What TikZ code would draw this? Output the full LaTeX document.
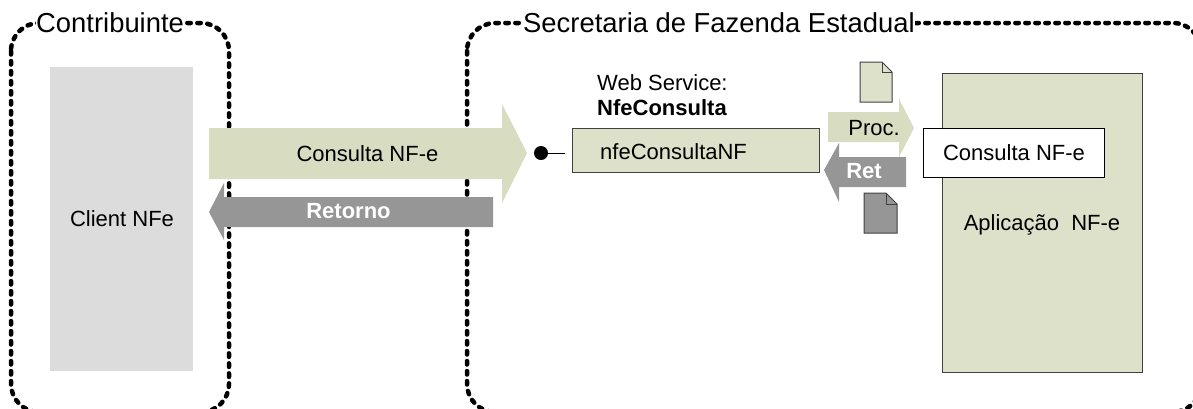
\documentclass[tikz,border=0pt]{standalone}
\usepackage{fontspec}
\setmainfont{Liberation Sans}
\usetikzlibrary{calc,positioning}
\definecolor{nfegreen}{HTML}{DDE1C9}
\definecolor{arrowgreen}{HTML}{D8DDC2}
\definecolor{nfegray}{HTML}{969696}
\definecolor{clientgray}{HTML}{DCDCDC}
\newcommand{\txtsize}{\fontsize{22}{26}\selectfont}
\newcommand{\titlesize}{\fontsize{27.4}{32}\selectfont}
\tikzset{
  zone/.style = {line width=4.5pt, line cap=round, dash pattern=on 3.5pt off 6.5pt, rounded corners=28pt},
  zonetitle/.style = {fill=white, inner sep=0pt, anchor=base west, font=\titlesize},
  box/.style = {draw=black!75, line width=1pt, fill=nfegreen},
  label/.style = {inner sep=0pt, anchor=base, font=\txtsize},
  boldlabel/.style = {label, font=\txtsize\bfseries, text=white},
  page/.style = {draw=black!75, line width=1pt}
}

\begin{document}
\begin{tikzpicture}[x=1pt,y=-1pt]
  \useasboundingbox (0,0) rectangle (1193,408);
  \clip (0,0) rectangle (1193,408);
  % areas
  \draw[zone] (11,23) rectangle (229,412);
  \draw[zone] (467,23) rectangle (1201,412);
  \node[zonetitle] (contribuinte) at (36,32) {Contribuinte};
  \node[zonetitle] (sefaz) at (523,32) {Secretaria de Fazenda Estadual};
  % client
  \fill[clientgray] (50,67) rectangle (193,371);
  \node[label] (client) at (122,226) {Client NFe};
  % big arrows
  \fill[arrowgreen] (209,128) -- (502,128) -- (502,104) -- (527,153) -- (502,203) -- (502,179) -- (209,179) -- cycle;
  \fill[nfegray] (493,197) -- (224,197) -- (224,183) -- (209,212) -- (224,240) -- (224,227) -- (493,227) -- cycle;
  \node[label] (consulta) at (367.5,161) {Consulta NF-e};
  \node[boldlabel] (retorno) at (348.5,218) {Retorno};
  % web service
  \draw[box] (572,128) rectangle (819,172);
  \node[label, anchor=base west] (nfeconsultanf) at (600,159) {nfeConsultaNF};
  \node[label, anchor=base west] (ws) at (597,90) {Web Service:};
  \node[label, anchor=base west, font=\txtsize\bfseries] (wsname) at (597,115) {NfeConsulta};
  \node[circle, fill=black, inner sep=0pt, minimum size=14pt] (dot) at (541,153) {};
  \coordinate (stub) at (565,153);
  \draw[line width=1pt] (dot) -- (stub);
  % small arrows
  \fill[arrowgreen] (828,112) -- (899,112) -- (899,99) -- (914,128) -- (899,157) -- (899,142) -- (828,142) -- cycle;
  \fill[nfegray] (906,157) -- (839,157) -- (839,143) -- (824,170) -- (839,202) -- (839,187) -- (906,187) -- cycle;
  \node[label] (proc) at (874,135) {Proc.};
  \node[boldlabel] (ret) at (864,178) {Ret};
  % documents
  \draw[page, fill=nfegreen] (860,62) -- (882,62) -- (892,72) -- (892,102) -- (860,102) -- cycle;
  \draw[page] (882,62) -- (882,72) -- (892,72);
  \draw[page, fill=nfegray] (864,193) -- (886,193) -- (897,204) -- (897,233) -- (864,233) -- cycle;
  \draw[page] (886,193) -- (886,204) -- (897,204);
  % application
  \draw[box] (942,73) rectangle (1142,372);
  \draw[draw=black, line width=1pt, fill=white] (923,128) rectangle (1104,177);
  \node[label] (consultaapp) at (1014,160) {Consulta NF-e};
  \node[label] (aplicacao) at (1042,230) {Aplicação\ \ NF-e};
\end{tikzpicture}
\end{document}
